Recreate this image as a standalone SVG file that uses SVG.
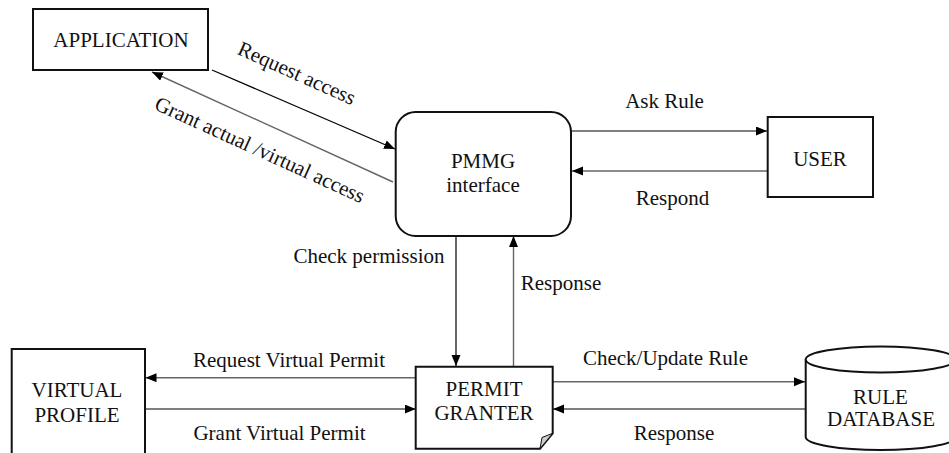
<svg xmlns="http://www.w3.org/2000/svg" width="949" height="453" viewBox="0 0 949 453">
<defs>
<marker id="ah" markerUnits="userSpaceOnUse" markerWidth="12" markerHeight="10" refX="11" refY="4.5" orient="auto">
<path d="M0,0 L11,4.5 L0,9 Z" fill="#000"/>
</marker>
<style>
.box{fill:#fff;stroke:#111;stroke-width:2}
.t{font-family:"Liberation Serif","Times New Roman",serif;font-size:21px;fill:#111;text-anchor:middle}
.c{fill:none;stroke:#000;stroke-width:1.2}
.g{fill:none;stroke:#666;stroke-width:1.4}
</style>
</defs>
<rect width="949" height="453" fill="#fff"/>

<g id="connectors">
<line class="c" x1="212" y1="70" x2="395" y2="149" marker-end="url(#ah)"/>
<line class="g" x1="393" y1="182" x2="152" y2="72" marker-end="url(#ah)"/>
<line class="c" x1="571" y1="131" x2="767" y2="131" marker-end="url(#ah)"/>
<line class="g" x1="767" y1="171" x2="572" y2="171" marker-end="url(#ah)"/>
<line class="c" x1="456" y1="236" x2="456" y2="366" marker-end="url(#ah)"/>
<line class="g" x1="513.5" y1="366" x2="513.5" y2="236" marker-end="url(#ah)"/>
<line class="g" x1="415.7" y1="377.7" x2="145.5" y2="377.7" marker-end="url(#ah)"/>
<line class="c" x1="145" y1="409" x2="415.7" y2="409" marker-end="url(#ah)"/>
<line class="g" x1="552.7" y1="381.7" x2="805" y2="381.7" marker-end="url(#ah)"/>
<line class="c" x1="805" y1="409" x2="553" y2="409" marker-end="url(#ah)"/>
<text class="t" transform="translate(294,79.5) rotate(24)">Request access</text>
<text class="t" transform="translate(257,156) rotate(24.5)">Grant actual /virtual access</text>
<text class="t" x="664.5" y="108.3">Ask Rule</text>
<text class="t" x="672.5" y="205">Respond</text>
<text class="t" x="369" y="263">Check permission</text>
<text class="t" x="561" y="290">Response</text>
<text class="t" x="289" y="367">Request Virtual Permit</text>
<text class="t" x="279.5" y="440">Grant Virtual Permit</text>
<text class="t" x="665.5" y="365">Check/Update Rule</text>
<text class="t" x="674" y="440">Response</text>
</g>

<g id="application">
<rect class="box" x="33" y="9" width="175" height="61"/>
<text class="t" x="121" y="46.7">APPLICATION</text>
</g>

<g id="pmmg">
<rect class="box" x="395.7" y="112" width="175.3" height="124" rx="20" ry="20"/>
<text class="t" x="483" y="168.3">PMMG</text>
<text class="t" x="483" y="192.3">interface</text>
</g>

<g id="user">
<rect class="box" x="767.7" y="117" width="105.3" height="80"/>
<text class="t" x="820" y="166">USER</text>
</g>

<g id="virtual-profile">
<rect class="box" x="11.7" y="349" width="133.3" height="120"/>
<text class="t" x="77" y="396.7">VIRTUAL</text>
<text class="t" x="77" y="421.7">PROFILE</text>
</g>

<g id="permit-granter">
<path class="box" d="M415.7,366.7 H552.7 V433.3 L540,448.7 H415.7 Z"/>
<path d="M552.7,433.3 L540,448.7 L542,437.5 Z" fill="#ccc" stroke="#111" stroke-width="1"/>
<text class="t" x="484" y="395.7">PERMIT</text>
<text class="t" x="484" y="420">GRANTER</text>
</g>

<g id="rule-database">
<path class="box" d="M805.7,359.5 V437 A75,13 0 0 0 955.7,437 V359.5"/>
<ellipse class="box" cx="880.7" cy="359.5" rx="75" ry="13"/>
<text class="t" x="880.5" y="403.5">RULE</text>
<text class="t" x="881" y="425.7">DATABASE</text>
</g>
</svg>
